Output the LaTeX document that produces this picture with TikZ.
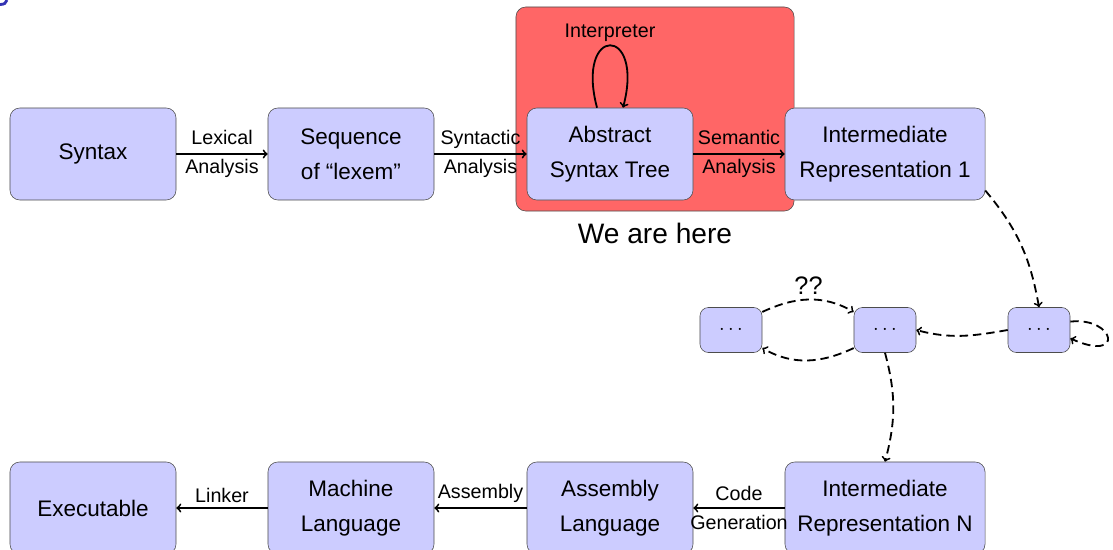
\documentclass[tikz,border=0pt]{standalone}
\usepackage{fontspec}
\setmainfont{Liberation Sans}
\usetikzlibrary{calc}
\definecolor{titleblue}{RGB}{51,51,179}

\begin{document}
\begin{tikzpicture}[x=0.025cm,y=0.025cm,
    stage/.style={draw=black!70,fill=blue!20,rounded corners=7pt,
      minimum width=4.15cm,minimum height=2.3cm,align=center,
      font=\fontsize{16}{25}\selectfont},
    wide/.style={stage,minimum width=5cm},
    dots/.style={draw=black!70,fill=blue!20,rounded corners=6pt,
      minimum width=1.55cm,minimum height=1.125cm,font=\fontsize{14}{17}\selectfont},
    lbl/.style={font=\fontsize{14}{21}\selectfont,align=center},
    pass/.style={->,line width=1.3pt},
    maybe/.style={->,line width=1.3pt,dash pattern=on 6pt off 3.5pt}]
    \useasboundingbox (0,0) rectangle (1113,549);
    \draw[titleblue,line width=2pt] (0,544.5) .. controls (4,544.5) and (6.5,546) .. (7,549);
    % where we are
    \node[draw=black!70,fill=red!60,rounded corners=7pt,inner sep=0pt,
      minimum width=6.95cm,minimum height=5.1cm] (here) at (655,440) {};
    \node[font=\fontsize{20}{24}\selectfont] (herelbl) at (655,316) {We are here};
    % front end
    \node[stage] (syn) at (93,395) {Syntax};
    \node[stage] (lex) at (351,395) {Sequence\\of ``lexem''};
    \node[stage] (ast) at (610,395) {Abstract\\Syntax Tree};
    \node[wide] (ir1) at (885,395) {Intermediate\\Representation 1};
    \draw[pass] (syn) -- node[lbl] {Lexical\\Analysis} (lex);
    \draw[pass] (lex) -- node[lbl] {Syntactic\\Analysis} (ast);
    \draw[pass] (ast) -- node[lbl] {Semantic\\Analysis} (ir1);
    \node[lbl] (interp) at (610,516) {Interpreter};
    \draw[pass] ($(ast.north)+(-13,0)$) .. controls +(-22,83) and +(22,83) .. ($(ast.north)+(13,0)$);
    % back end
    \node[stage] (exe) at (93,41) {Executable};
    \node[stage] (mach) at (351,41) {Machine\\Language};
    \node[stage] (asm) at (610,41) {Assembly\\Language};
    \node[wide] (irn) at (885,41) {Intermediate\\Representation N};
    \draw[pass] (irn) -- node[lbl] {Code\\Generation} (asm);
    \draw[pass] (asm) -- node[lbl,above] {Assembly} (mach);
    \draw[pass] (mach) -- node[lbl,above] {Linker} (exe);
    % middle passes
    \node[dots] (d1) at (731,219) {$\cdots$};
    \node[dots] (d2) at (885,219) {$\cdots$};
    \node[dots] (d3) at (1039,219) {$\cdots$};
    \draw[maybe] (ir1.-20) to[out=-50,in=100] (d3.north);
    \draw[maybe] (d3.15) .. controls +(45,5) and +(55,-25) .. (d3.-15);
    \draw[maybe] (d3.west) to[out=190,in=-15] (d2.east);
    \draw[maybe] (d1.30) to[out=25,in=150] node[above,font=\fontsize{18}{20}\selectfont] (qq) {??} (d2.150);
    \draw[maybe] (d2.210) to[out=205,in=-30] (d1.-30);
    \draw[maybe] (d2.south) to[out=-75,in=75] (irn.north);
\end{tikzpicture}
\end{document}
